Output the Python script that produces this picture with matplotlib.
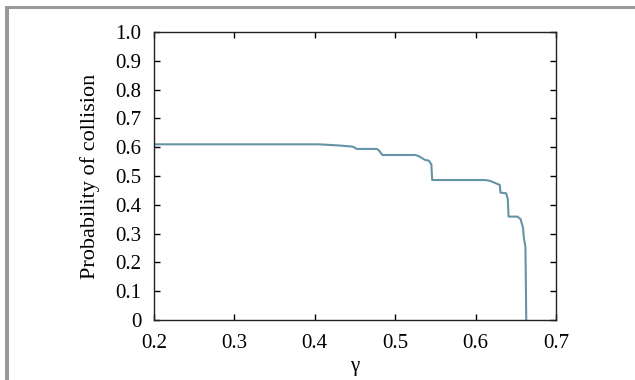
import matplotlib
matplotlib.use("Agg")
from matplotlib import pyplot as plt
from matplotlib.patches import Rectangle

# curve
gamma = [0.200, 0.405, 0.430, 0.447, 0.450, 0.452, 0.477, 0.480, 0.484, 0.525,
         0.530, 0.537, 0.542, 0.545, 0.546, 0.612, 0.618, 0.625, 0.630, 0.631,
         0.638, 0.640, 0.641, 0.652, 0.656, 0.659, 0.660, 0.662, 0.663]
prob = [0.610, 0.610, 0.606, 0.602, 0.598, 0.594, 0.594, 0.588, 0.573, 0.573,
        0.568, 0.556, 0.553, 0.540, 0.486, 0.486, 0.483, 0.475, 0.469, 0.442,
        0.440, 0.420, 0.359, 0.359, 0.350, 0.320, 0.285, 0.254, 0.000]

xticks = [0.2, 0.3, 0.4, 0.5, 0.6, 0.7]
yticks = [0, 0.1, 0.2, 0.3, 0.4, 0.5, 0.6, 0.7, 0.8, 0.9, 1.0]
ylabels = ['0'] + ['%.1f' % v for v in yticks[1:]]

plt.rcParams['font.family'] = ['Liberation Serif', 'DejaVu Serif']
plt.rcParams['font.size'] = 15

fig = plt.figure(figsize=(6.35, 3.8), dpi=100)

# grey frame on top and left
fig.patches.append(Rectangle((5/635, 0), 4/635, 374/380, transform=fig.transFigure,
                             color='#999999', lw=0))
fig.patches.append(Rectangle((5/635, 371/380), 630/635, 3/380, transform=fig.transFigure,
                             color='#999999', lw=0))

ax = fig.add_axes([154/635, 60/380, 402/635, 288/380])
ax.plot(gamma, prob, color='#6494a6', lw=1.5)

ax.set_xlim(0.2, 0.7)
ax.set_ylim(0, 1.0)
ax.set_xticks(xticks)
ax.set_xticklabels(['%.1f' % v for v in xticks])
ax.set_yticks(yticks)
ax.set_yticklabels(ylabels)
ax.tick_params(direction='in', length=4, width=1, top=True, right=True)
ax.tick_params(axis='x', pad=10)
ax.tick_params(axis='y', pad=9)
for s in ax.spines.values():
    s.set_linewidth(1)
    s.set_color('#222222')

ax.set_xlabel('γ', labelpad=3)
ax.set_ylabel('Probability of collision', fontsize=16, labelpad=11)

fig.savefig('out.png', dpi=100)
